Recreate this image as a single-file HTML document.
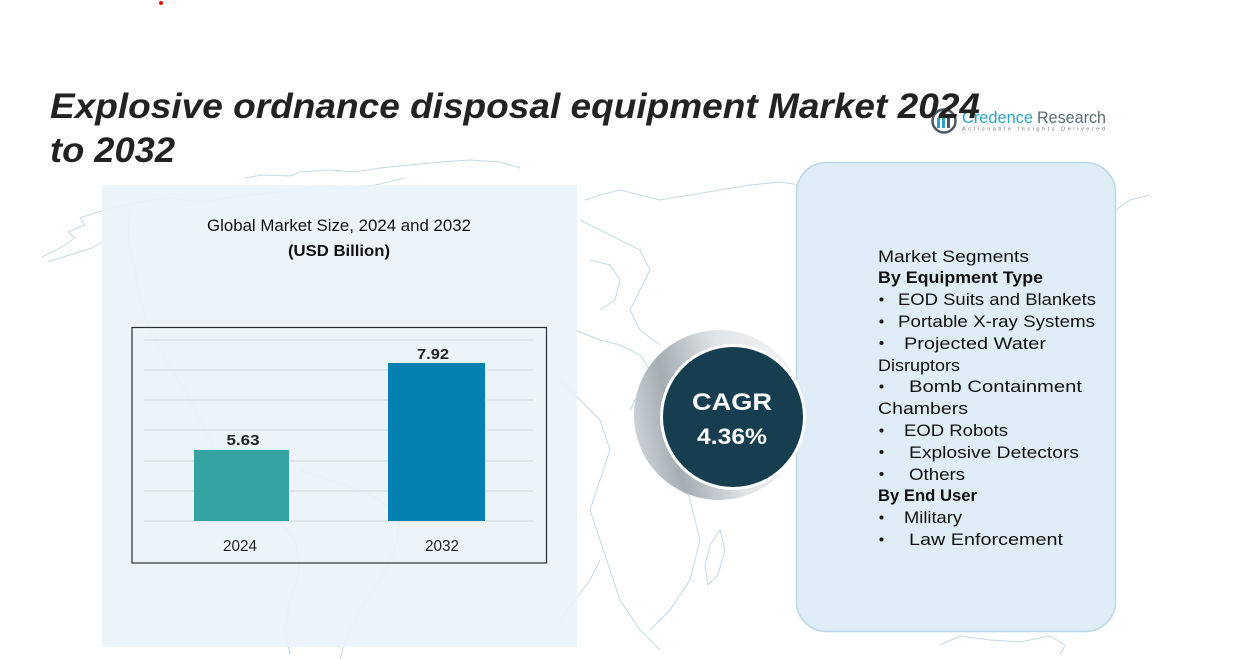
<!DOCTYPE html>
<html>
<head>
<meta charset="utf-8">
<style>
  html,body{margin:0;padding:0;background:#fff;}
  body{width:1256px;height:659px;overflow:hidden;}
  svg{display:block;}
  text{font-family:"Liberation Sans", sans-serif;}
</style>
</head>
<body>
<svg width="1256" height="659" viewBox="0 0 1256 659" xmlns="http://www.w3.org/2000/svg">
  <defs>
    <linearGradient id="cres" x1="0" y1="0.5" x2="1" y2="0.3">
      <stop offset="0" stop-color="#c9cfd3"/>
      <stop offset="0.2" stop-color="#a4adb3"/>
      <stop offset="0.55" stop-color="#e2e5e7"/>
      <stop offset="1" stop-color="#f4f5f6"/>
    </linearGradient>
  </defs>
  <rect width="1256" height="659" fill="#fff"/>

  <!-- faint world map approximation -->
  <g fill="none" stroke="#b7d4e3" stroke-width="1" opacity="0.85">
    <path d="M42,257 L60,248 L75,238 L68,232 L85,225 L80,218 L98,212 L120,206 L150,200 L170,198 L200,202 L240,196 L280,192 L320,186 L350,190 L380,184 L405,178"/>
    <path d="M48,262 L70,255 L92,248 L105,240"/>
    <path d="M245,178 L262,175 L290,176 L300,172 L330,170 L355,172 L380,168 L410,165 L440,162 L470,160 L500,162 L520,168"/>
    <path d="M130,206 L128,240 L135,270 L140,300 L150,330 L165,360 L185,390 L200,420 L215,450 L240,480 L270,510 L295,540 L300,570 L290,600 L285,630 L290,655"/>
    <path d="M300,470 L330,480 L360,490 L380,500 L400,520 L395,550 L380,580 L360,610 L345,640 L340,659"/>
    <path d="M560,620 L575,600 L590,580 L600,560"/>
    <path d="M585,200 L600,195 L620,190 L640,195 L660,200 L690,195 L720,190 L750,185 L780,182 L800,185"/>
    <path d="M580,220 L600,230 L620,240 L640,250 L650,270 L640,290 L630,310 L640,330 L660,345"/>
    <path d="M590,260 L610,265 L620,280 L615,300 L600,310"/>
    <path d="M575,330 L600,340 L620,345 L640,355 L650,370 L640,390 L630,410"/>
    <path d="M560,380 L580,400 L600,420 L610,450 L600,480 L590,510 L600,540 L610,570 L620,600 L640,630 L660,650"/>
    <path d="M650,380 L660,420 L680,460 L690,500 L700,540 L690,580 L670,610 L650,630"/>
    <path d="M710,545 L720,530 L725,550 L718,575 L708,585 L705,565 Z"/>
    <path d="M940,645 L960,636 L990,640 L1020,642 L1050,636 L1065,645 L1060,655"/>
    <path d="M1116,210 L1130,200 L1150,195"/>
  </g>

  <!-- red dot -->
  <circle cx="161" cy="3" r="2" fill="#e61010"/>

  <!-- Logo -->
  <g>
    <circle cx="944" cy="121" r="11.5" fill="none" stroke="#4b5a66" stroke-width="2.5"/>
    <rect x="937" y="118" width="3" height="10" fill="#2aa3c2"/>
    <rect x="942" y="114" width="3" height="14" fill="#2aa3c2"/>
    <rect x="947" y="116" width="3" height="12" fill="#4b5a66"/>
    <text x="962" y="123" font-size="17" fill="#2ba6c6" textLength="71" lengthAdjust="spacingAndGlyphs">Credence</text>
    <text x="1037" y="123" font-size="17" fill="#5b6875" textLength="69" lengthAdjust="spacingAndGlyphs">Research</text>
    <text x="962" y="130.5" font-size="5.5" fill="#6b7680" textLength="143" lengthAdjust="spacing">Actionable Insights Delivered</text>
  </g>

  <!-- Title -->
  <text x="50" y="118" font-size="35" font-weight="bold" font-style="italic" fill="#222" textLength="930" lengthAdjust="spacingAndGlyphs">Explosive ordnance disposal equipment Market 2024</text>
  <text x="50" y="162" font-size="35" font-weight="bold" font-style="italic" fill="#222" textLength="125" lengthAdjust="spacingAndGlyphs">to 2032</text>

  <!-- Left panel -->
  <rect x="102" y="185" width="475" height="462" fill="#e9f2f9" opacity="0.88"/>
  <text x="339" y="231" font-size="17" fill="#111" text-anchor="middle" textLength="264" lengthAdjust="spacingAndGlyphs">Global Market Size, 2024 and 2032</text>
  <text x="339" y="256" font-size="16" font-weight="bold" fill="#111" text-anchor="middle" textLength="102" lengthAdjust="spacingAndGlyphs">(USD Billion)</text>

  <!-- Chart box -->
  <rect x="132" y="327.5" width="414.5" height="235.5" fill="none" stroke="#2a2f33" stroke-width="1.2"/>
  <g stroke="#cfd9e0" stroke-width="1">
    <line x1="144" y1="340" x2="533" y2="340"/>
    <line x1="144" y1="370" x2="533" y2="370"/>
    <line x1="144" y1="400" x2="533" y2="400"/>
    <line x1="144" y1="430" x2="533" y2="430"/>
    <line x1="144" y1="461" x2="533" y2="461"/>
    <line x1="144" y1="491" x2="533" y2="491"/>
    <line x1="144" y1="521" x2="533" y2="521"/>
  </g>
  <rect x="194" y="450" width="95" height="71" fill="#35a3a3"/>
  <rect x="388" y="363" width="97" height="158" fill="#0580b1"/>
  <text x="243" y="445" font-size="15" font-weight="bold" fill="#222" text-anchor="middle" textLength="33" lengthAdjust="spacingAndGlyphs">5.63</text>
  <text x="433" y="359" font-size="15" font-weight="bold" fill="#222" text-anchor="middle" textLength="32" lengthAdjust="spacingAndGlyphs">7.92</text>
  <text x="240" y="551" font-size="16" fill="#222" text-anchor="middle" textLength="34" lengthAdjust="spacingAndGlyphs">2024</text>
  <text x="442" y="551" font-size="16" fill="#222" text-anchor="middle" textLength="34" lengthAdjust="spacingAndGlyphs">2032</text>

  <!-- Right panel -->
  <rect x="796.5" y="162.5" width="319" height="469" rx="30" ry="30" fill="#deedf6" stroke="#bcd8e6" stroke-width="1.5"/>
  <g fill="#111" font-size="17">
    <text x="878" y="262" textLength="151" lengthAdjust="spacingAndGlyphs">Market Segments</text>
    <text x="878" y="283" font-weight="bold" textLength="165" lengthAdjust="spacingAndGlyphs">By Equipment Type</text>
    <text x="898" y="305" textLength="198" lengthAdjust="spacingAndGlyphs">EOD Suits and Blankets</text>
    <text x="898" y="327" textLength="197" lengthAdjust="spacingAndGlyphs">Portable X-ray Systems</text>
    <text x="904" y="349" textLength="142" lengthAdjust="spacingAndGlyphs">Projected Water</text>
    <text x="878" y="371" textLength="82" lengthAdjust="spacingAndGlyphs">Disruptors</text>
    <text x="909" y="392" textLength="173" lengthAdjust="spacingAndGlyphs">Bomb Containment</text>
    <text x="878" y="414" textLength="90" lengthAdjust="spacingAndGlyphs">Chambers</text>
    <text x="904" y="436" textLength="104" lengthAdjust="spacingAndGlyphs">EOD Robots</text>
    <text x="909" y="458" textLength="170" lengthAdjust="spacingAndGlyphs">Explosive Detectors</text>
    <text x="909" y="480" textLength="56" lengthAdjust="spacingAndGlyphs">Others</text>
    <text x="878" y="501" font-weight="bold" textLength="99" lengthAdjust="spacingAndGlyphs">By End User</text>
    <text x="904" y="523" textLength="58" lengthAdjust="spacingAndGlyphs">Military</text>
    <text x="909" y="545" textLength="154" lengthAdjust="spacingAndGlyphs">Law Enforcement</text>
  </g>
  <g fill="#111">
    <circle cx="881.5" cy="299.5" r="2"/>
    <circle cx="881.5" cy="321.5" r="2"/>
    <circle cx="881.5" cy="343" r="2"/>
    <circle cx="881.5" cy="386.5" r="2"/>
    <circle cx="881.5" cy="430.5" r="2"/>
    <circle cx="881.5" cy="452" r="2"/>
    <circle cx="881.5" cy="474" r="2"/>
    <circle cx="881.5" cy="517.5" r="2"/>
    <circle cx="881.5" cy="539.5" r="2"/>
  </g>

  <!-- CAGR (drawn over panel edge) -->
  <circle cx="719" cy="415" r="85" fill="url(#cres)"/>
  <circle cx="733" cy="417" r="73" fill="#ffffff"/>
  <circle cx="733" cy="417" r="70" fill="#163e50"/>
  <text x="732" y="410" font-size="24" font-weight="bold" fill="#fff" text-anchor="middle" textLength="80" lengthAdjust="spacingAndGlyphs">CAGR</text>
  <text x="732" y="444" font-size="22" font-weight="bold" fill="#fff" text-anchor="middle" textLength="70" lengthAdjust="spacingAndGlyphs">4.36%</text>
</svg>
</body>
</html>
